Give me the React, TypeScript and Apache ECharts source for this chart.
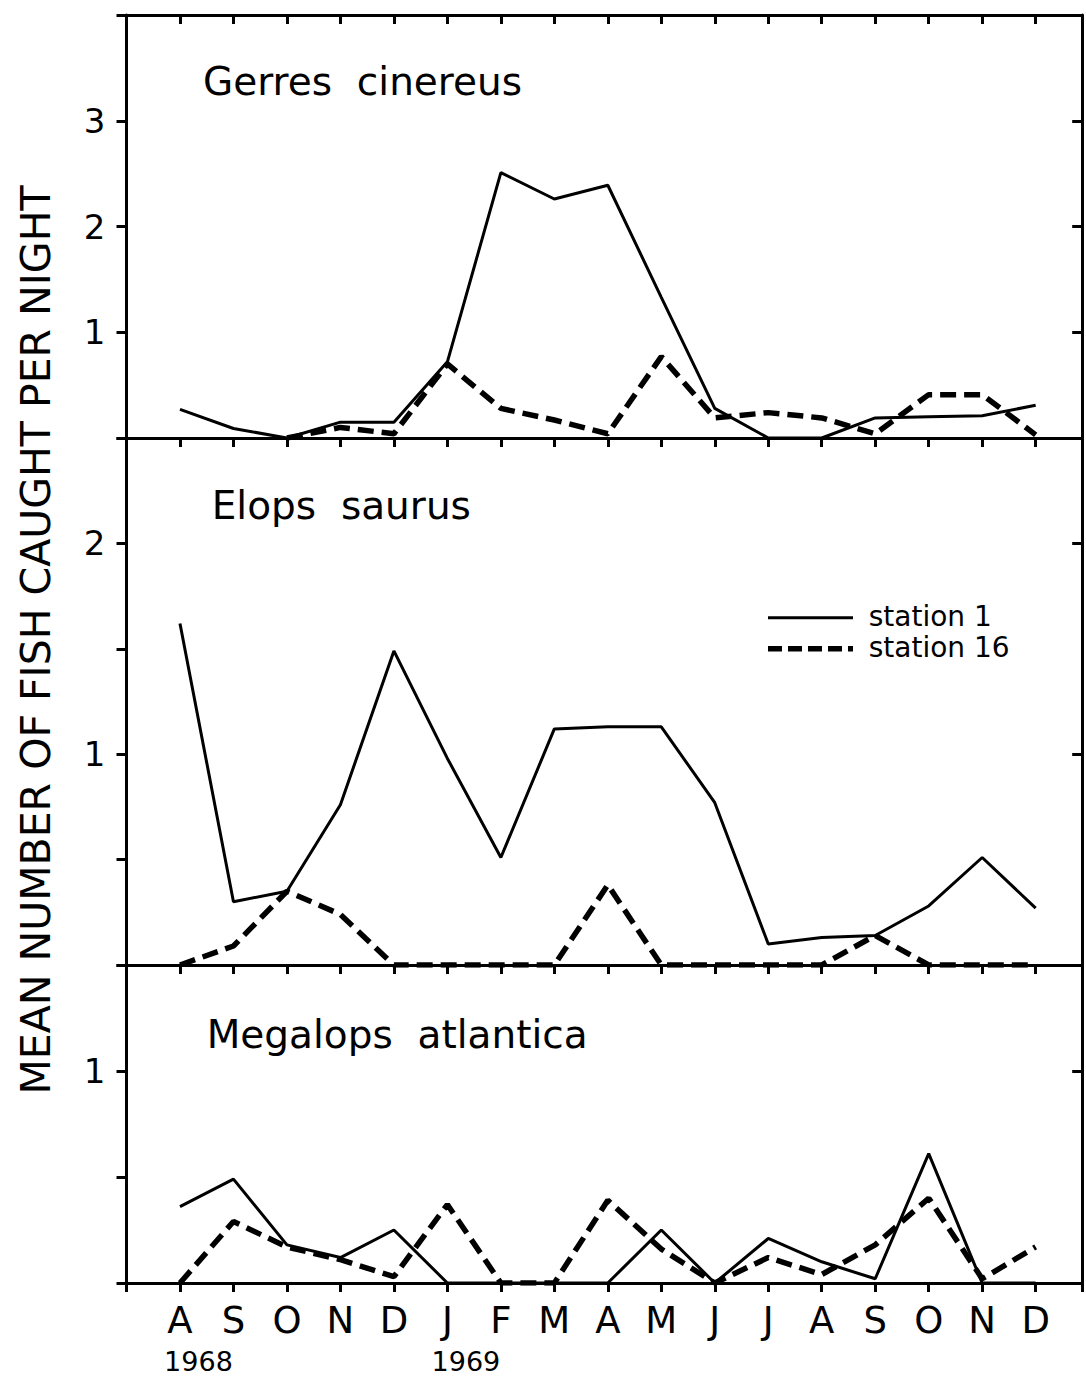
import { useEffect, useRef } from 'react';
import * as echarts from 'echarts';

// ---- data ----
const months = ['A', 'S', 'O', 'N', 'D', 'J', 'F', 'M', 'A', 'M', 'J', 'J', 'A', 'S', 'O', 'N', 'D'];
const yearLabels = ['1968', '1969'];
const yearIndex = [0, 5];

const gerresSt1 = [0.27, 0.09, 0, 0.15, 0.15, 0.72, 2.51, 2.26, 2.39, 1.33, 0.28, 0, 0, 0.19, 0.2, 0.21, 0.31];
const gerresSt16 = [null, null, 0, 0.1, 0.04, 0.7, 0.28, 0.17, 0.04, 0.77, 0.19, 0.24, 0.19, 0.04, 0.41, 0.41, 0.03];

const elopsSt1 = [1.62, 0.3, 0.35, 0.76, 1.49, 0.98, 0.51, 1.12, 1.13, 1.13, 0.77, 0.1, 0.13, 0.14, 0.28, 0.51, 0.27];
const elopsSt16 = [0, 0.09, 0.35, 0.24, 0, 0, 0, 0, 0.38, 0, 0, 0, 0, 0.14, 0, 0, 0];

const megalopsSt1 = [0.36, 0.49, 0.18, 0.12, 0.25, 0, 0, 0, 0, 0.25, 0, 0.21, 0.1, 0.02, 0.61, 0, 0];
const megalopsSt16 = [0, 0.29, 0.17, 0.11, 0.03, 0.37, 0, 0, 0.39, 0.16, 0, 0.12, 0.04, 0.18, 0.4, 0.02, 0.17];

const speciesNames = ['Gerres  cinereus', 'Elops  saurus', 'Megalops  atlantica'];
const yMax = [4, 2.5, 1.5];
const yInterval = [1, 0.5, 0.5];
const yLabelValues = [[1, 2, 3], [1, 2], [1]];
const legendNames = ['station 1', 'station 16'];
const yTitle = 'MEAN NUMBER OF FISH CAUGHT PER NIGHT';

// ---- layout ----
const W = 1086;
const H = 1378;
const LEFT = 126.5;
const STEP = 53.48;
const X_MIN = -1;
const X_MAX = 16.87;
const GRID_W = (X_MAX - X_MIN) * STEP;
const panelTop = [15, 438, 965];
const panelHeight = [423, 527, 318];
const titlePos = [[203, 81.7], [211.7, 505], [206.7, 1034]];
const FONT = 'DejaVu Sans';

const solidStyle = { color: '#000', width: 3, type: 'solid' as const };
const dashStyle = { color: '#000', width: 5.5, type: [16, 8] as any };

function toPairs(arr: (number | null)[]) {
  return arr.map((v, i) => [i, v]);
}

export default function App() {
  const ref = useRef<HTMLDivElement>(null);
  useEffect(() => {
    if (!ref.current) return;
    const chart = echarts.init(ref.current, undefined, { renderer: 'svg' });

    const grids = panelTop.map((t, i) => ({ left: LEFT, top: t, width: GRID_W, height: panelHeight[i] }));
    const lineStyle = { color: '#000', width: 3 };

    const xAxes: any[] = [];
    const yAxes: any[] = [];
    for (let i = 0; i < 3; i++) {
      // top axis (inward ticks)
      xAxes.push({
        gridIndex: i, type: 'value', position: 'top', min: X_MIN, max: X_MAX, interval: 1,
        axisLine: { show: true, onZero: false, lineStyle },
        axisTick: { show: true, inside: true, length: 9, lineStyle },
        axisLabel: { show: false }, splitLine: { show: false },
      });
      // bottom axis
      const last = i === 2;
      xAxes.push({
        gridIndex: i, type: 'value', position: 'bottom', min: X_MIN, max: X_MAX, interval: 1,
        axisLine: { show: true, onZero: false, lineStyle },
        axisTick: { show: last, inside: false, length: 9, lineStyle },
        axisLabel: {
          show: last, color: '#000', fontFamily: FONT, fontSize: 37, margin: 37, verticalAlign: 'middle',
          formatter: (v: number) => (Number.isInteger(v) && v >= 0 && v < months.length ? months[v] : ''),
        },
        splitLine: { show: false },
      });
      const labs = yLabelValues[i];
      yAxes.push({
        gridIndex: i, type: 'value', position: 'left', min: 0, max: yMax[i], interval: yInterval[i],
        axisLine: { show: true, onZero: false, lineStyle },
        axisTick: { show: true, inside: false, length: 10, lineStyle },
        axisLabel: {
          show: true, color: '#000', fontFamily: FONT, fontSize: 34, margin: 21,
          formatter: (v: number) => (labs.some((l) => Math.abs(l - v) < 1e-6) ? String(Math.round(v)) : ''),
        },
        splitLine: { show: false },
      });
      yAxes.push({
        gridIndex: i, type: 'value', position: 'right', min: 0, max: yMax[i], interval: 1,
        axisLine: { show: true, onZero: false, lineStyle },
        axisTick: { show: true, inside: true, length: 10, lineStyle },
        axisLabel: { show: false }, splitLine: { show: false },
      });
    }

    const dataSets = [
      [gerresSt1, gerresSt16],
      [elopsSt1, elopsSt16],
      [megalopsSt1, megalopsSt16],
    ];
    const series: any[] = [];
    dataSets.forEach((pair, i) => {
      series.push({
        type: 'line', name: legendNames[0], xAxisIndex: 2 * i + 1, yAxisIndex: 2 * i,
        data: toPairs(pair[0]), showSymbol: false, lineStyle: solidStyle, z: 3, connectNulls: false,
      });
      series.push({
        type: 'line', name: legendNames[1], xAxisIndex: 2 * i + 1, yAxisIndex: 2 * i,
        data: toPairs(pair[1]), showSymbol: false, lineStyle: dashStyle, z: 4, connectNulls: false,
      });
    });

    const graphics: any[] = [];
    speciesNames.forEach((n, i) => {
      graphics.push({
        type: 'text', x: titlePos[i][0], y: titlePos[i][1],
        style: { text: n, fill: '#000', font: `39px "${FONT}"`, align: 'left', verticalAlign: 'middle' },
      });
    });
    graphics.push({
      type: 'text', x: 36, y: 640, rotation: Math.PI / 2,
      style: { text: yTitle, fill: '#000', font: `41px "${FONT}"`, align: 'center', verticalAlign: 'middle' },
    });
    // legend
    graphics.push({ type: 'line', shape: { x1: 768, y1: 617.7, x2: 853, y2: 617.7 }, style: { stroke: '#000', lineWidth: 3 } });
    graphics.push({ type: 'line', shape: { x1: 768, y1: 648.7, x2: 853, y2: 648.7 }, style: { stroke: '#000', lineWidth: 5.5, lineDash: [14, 6] } });
    graphics.push({
      type: 'text', x: 868.7, y: 616,
      style: { text: legendNames[0], fill: '#000', font: `28px "${FONT}"`, align: 'left', verticalAlign: 'middle' },
    });
    graphics.push({
      type: 'text', x: 868.7, y: 647,
      style: { text: legendNames[1], fill: '#000', font: `28px "${FONT}"`, align: 'left', verticalAlign: 'middle' },
    });
    // years
    yearLabels.forEach((y, k) => {
      const cx = LEFT + (yearIndex[k] - X_MIN) * STEP + 18.5;
      graphics.push({
        type: 'text', x: cx, y: 1361.7,
        style: { text: y, fill: '#000', font: `27px "${FONT}"`, align: 'center', verticalAlign: 'middle' },
      });
    });

    chart.setOption({
      animation: false,
      backgroundColor: '#fff',
      grid: grids,
      xAxis: xAxes,
      yAxis: yAxes,
      series,
      graphic: graphics,
    });
    return () => chart.dispose();
  }, []);
  return <div ref={ref} style={{ position: 'absolute', left: 0, top: 0, width: W, height: H, background: '#fff' }} />;
}
